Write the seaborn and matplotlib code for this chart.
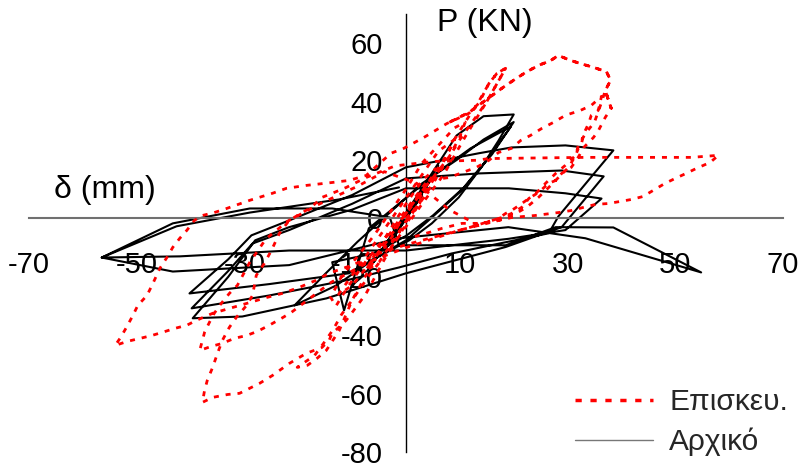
import matplotlib
matplotlib.use("Agg")
import matplotlib.pyplot as plt
import seaborn as sns
import pandas as pd
from matplotlib.lines import Line2D

# ---------------- data ----------------
# Αρχικό (original specimen) : displacement δ (mm), load P (kN)
orig_x = [0, 3, -2.5, 4.5, -4, 6, -6,
          9.4, 14.4, 20, 17.2, 14, 9.8, 4.8, 0.6, -6, -13, -20.7,
          -15, -9, -3, 3, 9.4, 14.4, 20,
          16, 11, 5, 0, -6, -13.7, -11.5, -6.9, 0, 6, 12, 19.5,
          15, 10, 4, 0, -10.6, -25.4, -40.2,
          -33, -28.7, -21.7, -10, 0, 13.5, 19.6, 29.6, 38.5,
          28.3, 26.5, 8.5, -1.3, -10.6, -25.4, -39.8,
          -33, -28.5, -21.7, -10, 0, 13.5, 28.9, 36.7,
          28.9, 18.5, 0, -14.8, -30.4, -39.6,
          -33, -28, -21.7, -10, 0, 13.5, 19.1, 29.6, 36.3,
          29.6, 19, 0, -21.7, -42, -56.5,
          -43.3, -29, -13.7, -3, -1.3, 18.5, 27.8, 38.5, 54.8,
          33.3, 19, -1.3, -21.7, -43.3, -56.5,
          -42.6, -29, -12.4, -1.3]
orig_y = [0, 8, -7, 13, -11, 18, -15,
          28.4, 35, 35.6, 26.7, 17.5, 7.2, -1.7, -7.5, -14, -23, -29.8,
          -19, -8, 2, 12, 20, 27, 33,
          22, 11, 1, -6, -12, -15, -31.5, -3.4, 7, 16, 24, 31.5,
          20, 9, -1, -7.5, -18.8, -22.5, -25.7,
          -14, -5.8, -0.7, 8, 17.5, 22.3, 24.3, 25, 23.3,
          0.7, -5.1, -12, -16.8, -21, -26.4, -30.8,
          -18, -8.6, -4, 5, 13.7, 15.4, 16.4, 14.4,
          -3, -9.8, -18.8, -27.4, -33.6, -34.2,
          -20, -7.5, -3, 3, 10.3, 10.3, 10.3, 8.6, 6.8,
          -4, -7, -11, -11, -13, -13.4,
          -1.7, 3.4, 3.4, 0.3, -9.2, -9.2, -3, -3.1, -18.5,
          -6.8, -3, -6.8, -16, -18.2, -13.4,
          -2.7, 2, 6.5, 10.6]

# Επισκευ. (repaired specimen) -- early small cycles around the origin
rep_core_x = [0, 2, 3, 1, -1, -2.5, -4, -2, 0, 2.5, 4.5, 5.5, 3, 0, -2, -4, -6, -7.5,
              -5, -2.5, 0, 3, 6, 8, 9, 6, 3, 0, -3, -6, -9, -11, -12.5, -10, -7, -4,
              -1, 2, 5, 8, 10, 11, 9, 6, 3, 0, -3, -6, -9, -12, -14, -13, -11, -8,
              -5, -2, 1, 4, 7, 9, 11]
rep_core_y = [0, 4, 9, 5, -1, -6, -10, -7, -1, 5, 13, 17, 13, 5, -1, -7, -13, -18,
              -15, -8, -1, 7, 16, 23, 27, 23, 15, 7, -1, -9, -17, -22, -26, -23, -16, -9,
              -1, 7, 14, 21, 28, 33, 31, 25, 19, 10, 2, -6, -13, -20, -27, -30, -24, -16,
              -9, -3, 4, 12, 20, 27, 33]
# Επισκευ. -- large cycles
rep_big_x = [13.5, 15.4, 16.9, 18.5, 15.0, 11.0, 7.0, 3.0, -2.0, -7.0, -10.0, -12.0, -13.5,
             -15.0, -17.0, -20.2, -18.3, -16.5, -14.8, -12.4, -10.0, -7.0, -4.0, 0.0, 4.0,
             8.0, 13.1, 15.4, 17.2, 19.6, 21.3, 23.1, 25.2, 27.4, 29.6, 32.4, 34.4, 36.3,
             35.7, 34.4, 33.9, 33.0, 32.6, 32.0, 31.5, 30.2, 28.3, 26.5, 24.6, 22.4, 20.4,
             17.2, 10.0, 5.0, 0.0, -7.0, -14.0, -21.3, -23.1, -25.4, -27.6, -29.6, -31.9,
             -34.1, -36.1, -38.3, -37.4, -36.5, -35.6, -34.3, -32.8, -31.3, -29.0, -26.0,
             -22.0, -16.0, -9.0, -4.0, 2.0, 8.0, 13.5,
             15.9, 17.8, 19.6, 21.5, 22.8, 24.3, 25.9, 27.8, 29.6, 31.5, 32.0, 33.3, 35.0,
             36.3, 37.0, 38.1, 37.0, 38.0, 37.2, 34.8, 30.7, 28.3, 26.8, 24.6, 22.2, 18.5,
             11.7, 7.6, 11.7, 18.5, 22.2, 24.6, 26.8, 28.3, 30.7, 34.8, 37.2, 38.0, 37.0,
             38.1, 37.0, 35.7, 34.8, 33.0, 32.0, 30.7, 28.9, 27.8, 26.5, 24.6, 22.8, 21.5,
             19.6, 18.5, 17.2, 12.0, 6.0, 0.0, -5.0, -10.0, -14.3, -16.7, -19.8, -23.0,
             -25.9, -29.0, -32.2, -35.9, -38.9, -40.7, -43.0, -45.2, -47.2, -49.4, -51.7,
             -54.0, -53.0, -51.9, -50.7, -49.8, -48.1, -47.0, -45.7, -44.4, -43.3, -42.0,
             -40.7, -39.3, -37.8, -35.6, -33.3, -29.0, -24.8, -22.2, -18.5, -13.7, -10.6,
             -7.4, -2.8, -0.4, 3.3, 7.6, 11.7, 13.5, 15.4, 16.9, 18.5,
             15.0, 10.0, 5.0, 0.0, -4.0, -7.4, -9.3, -11.1, -13.7, -14.3, -15.6, -18.5,
             -21.7, -24.8, -27.2, -30.9, -33.1, -35.9, -37.8, -37.4, -36.9, -35.9, -35.0,
             -34.1, -32.8, -31.5, -29.6, -28.5, -27.8, -26.3, -25.0, -23.5, -21.7, -17.6,
             -15.6, -13.7, -11.1, -7.4, -2.0, 5.0, 13.0, 15.4, 33.3, 53.0, 58.0, 56.5,
             53.9, 52.0, 50.0, 48.1, 45.9, 44.0, 41.9, 39.8, 37.6, 35.2, 33.0, 30.7, 28.3,
             24.0, 19.6, 17.2, 14.0, 10.4, 6.7, 4.3, 1.1]
rep_big_y = [40, 46.2, 49.7, 51.4, 40, 28, 15, 5, -8, -20, -28, -33, -38,
             -42, -47, -51, -50.3, -47.9, -45.2, -38.4, -28, -18, -8, 3, 13,
             14, 17.5, 19.9, 22.6, 24, 26.7, 28.4, 30.8, 32.9, 35.3, 37, 38.7, 41.8,
             37, 35.3, 32.5, 29, 25.7, 24, 21.6, 17.5, 14, 10.6, 7.2, 3.8, 1.7,
             -0.7, -4, -7, -10, -15, -22, -32.2, -34.2, -36.6, -38.7, -40.1, -41.1,
             -42.8, -43.8, -45.2, -39, -35.6, -32.5, -29.1, -25.7, -22.9, -15, -7,
             -1, 5, 11, 16, 12, 3, -2.4,
             -0.7, 0.3, 1.7, 3.8, 6.8, 8.9, 12, 15.4, 18.2, 21.6, 25, 29, 33,
             39.7, 43.8, 37.7, 43.8, 47.3, 50.3, 51.7, 54, 55.8, 54, 52.4, 50, 45.5,
             36.3, 32.5, 36.3, 45.5, 50, 52.4, 54, 55.8, 54, 51.7, 50.3, 47.3, 43.8,
             37.7, 34.6, 30, 27.7, 24.3, 21, 17.5, 15.4, 13, 12, 8.9, 6.8, 5.1,
             2.7, 1.7, 0, -3, -6, -9, -12, -16, -18.8, -21.2, -23.6, -25.7,
             -27.1, -28.8, -30.5, -32.5, -34.9, -36.6, -37.7, -39, -40.1, -41.1, -42.1,
             -43.5, -40.8, -37.3, -33.2, -29.8, -26.4, -22.3, -17.1, -13.4, -9.9, -6.8,
             -4.1, -0.7, 1, 2, 3.4, 6.2, 8.6, 10.3, 11.3, 12.3, 13,
             14.7, 22.3, 24, 27.7, 32.5, 36, 39.4, 46.2, 49.7, 51.4,
             40, 27, 12, -2, -14, -25.7, -30.5, -34.9, -39.4, -41.8, -44.2, -46.2,
             -49.7, -53.8, -56.5, -59.9, -60.3, -61.3, -63, -58.9, -55.5, -51, -46.2,
             -41.8, -37.3, -33.9, -29.8, -26.4, -19.5, -15.4, -11, -5.1, -0.7, 3.8,
             7.2, 8.6, 10.6, 14, 18, 19.5, 19.9, 20.5, 20.9, 20.9, 21.6, 19.2,
             17.1, 15.4, 13.7, 12, 9.6, 7.5, 6.5, 5.8, 5.1, 4.8, 3.8, 2.7, 2,
             1, 0.3, -0.7, -1.7, -1.7, -3.4, -4.8, -6.5]

x_ticks = [-70, -50, -30, -10, 10, 30, 50, 70]
y_ticks = [-80, -60, -40, -20, 0, 20, 40, 60]
label_rep = "Επισκευ."
label_orig = "Αρχικό"

df_orig = pd.DataFrame({"d": orig_x, "P": orig_y})
df_rep = pd.DataFrame({"d": rep_core_x + rep_big_x, "P": rep_core_y + rep_big_y})

# ---------------- figure ----------------
sns.set_theme(style="white")
plt.rcParams["font.family"] = ["Liberation Sans", "DejaVu Sans"]
FS_TICK = 21
FS_LAB = 23
FS_LEG = 21.5

fig = plt.figure(figsize=(8.02, 4.66), dpi=100)
ax = fig.add_axes([29 / 802, 1 - 452 / 466, 754 / 802, 438 / 466])

sns.lineplot(data=df_orig, x="d", y="P", sort=False, estimator=None, ax=ax,
             color="black", lw=1.5, zorder=2)
sns.lineplot(data=df_rep, x="d", y="P", sort=False, estimator=None, ax=ax,
             color="#ff0000", lw=2.0, linestyle=(0, (1.8, 2.5)), zorder=3)

ax.set_xlim(-70, 70)
ax.set_ylim(-80, 70)
ax.set_axisbelow(True)

for s in ["top", "right"]:
    ax.spines[s].set_visible(False)
ax.spines["left"].set_position(("data", 0))
ax.spines["bottom"].set_position(("data", 0))
ax.spines["left"].set_color("black")
ax.spines["left"].set_linewidth(1.0)
ax.spines["bottom"].set_color("#707070")
ax.spines["bottom"].set_linewidth(1.5)

ax.set_xticks(x_ticks)
ax.set_yticks(y_ticks)
ax.set_xticklabels([str(v) for v in x_ticks])
ax.set_yticklabels([str(v) for v in y_ticks])
ax.tick_params(axis="x", direction="out", length=7.5, width=1.0, color="black",
               pad=16, labelsize=FS_TICK, labelcolor="black")
ax.tick_params(axis="y", direction="out", length=7.5, width=1.0, color="black",
               pad=9, labelsize=FS_TICK, labelcolor="black")

ax.set_xlabel("δ (mm)", fontsize=FS_LAB, color="black", va="center", ha="center")
ax.xaxis.set_label_coords((105 - 29) / 754, (452 - 190) / 438)
ax.set_ylabel("P (KN)", fontsize=FS_LAB, color="black", rotation=0, va="center", ha="center")
ax.yaxis.set_label_coords((485 - 29) / 754, (452 - 23) / 438)

handles = [Line2D([], [], color="#ff0000", lw=2.5, linestyle=(0, (1.8, 2.5))),
           Line2D([], [], color="#777777", lw=1.0)]
leg = fig.legend(handles, [label_rep, label_orig], loc="upper left",
                 bbox_to_anchor=(575 / 802, 1 - 388 / 466), frameon=False,
                 fontsize=FS_LEG, handlelength=2.6, handletextpad=0.55,
                 labelspacing=0.4, borderpad=0, borderaxespad=0)

fig.savefig("out.png", dpi=100)
